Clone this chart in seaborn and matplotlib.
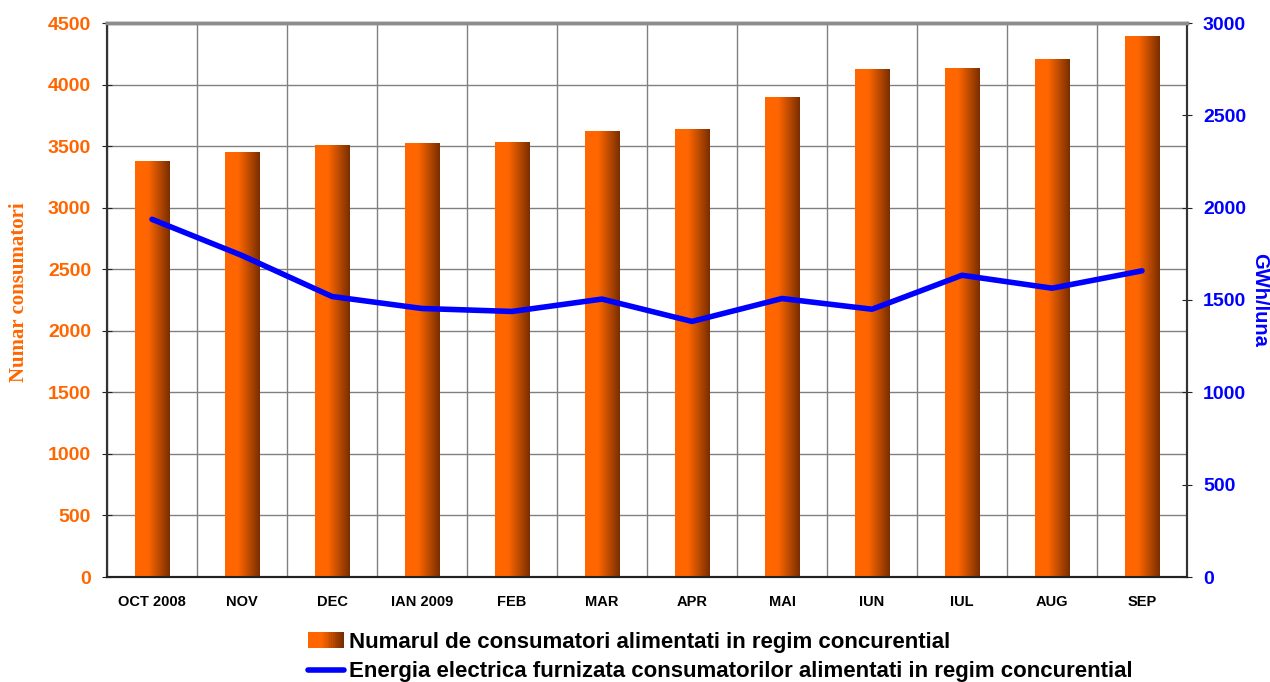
import numpy as np
import pandas as pd
import seaborn as sns
import matplotlib
matplotlib.use('Agg')
import matplotlib.pyplot as plt
from matplotlib.colors import LinearSegmentedColormap
from matplotlib.patches import Rectangle
from matplotlib.lines import Line2D
from matplotlib.legend_handler import HandlerBase

months = ['OCT 2008', 'NOV', 'DEC', 'IAN 2009', 'FEB', 'MAR', 'APR', 'MAI', 'IUN', 'IUL', 'AUG', 'SEP']
consumers = [3378, 3451, 3508, 3524, 3532, 3622, 3638, 3897, 4124, 4132, 4205, 4392]
energy = [1937, 1741, 1519, 1454, 1438, 1505, 1384, 1508, 1450, 1634, 1564, 1658]

bar_label = 'Numarul de consumatori alimentati in regim concurential'
line_label = 'Energia electrica furnizata consumatorilor alimentati in regim concurential'

ORANGE = '#FF6600'
BLUE = '#0000FF'
grad = LinearSegmentedColormap.from_list('bar', [(0, '#FF6600'), (0.38, '#FF6600'), (1, '#7A2E00')])


class GradientHandler(HandlerBase):
    # legend box filled with the same orange->brown gradient as the bars
    def create_artists(self, legend, orig_handle, xdescent, ydescent, width, height, fontsize, trans):
        n = 20
        arts = []
        for i in range(n):
            r = Rectangle((-xdescent + width * i / n, -ydescent), width / n + 0.3, height,
                          facecolor=grad(i / (n - 1)), edgecolor='none', transform=trans)
            arts.append(r)
        return arts


sns.set_style('white')
plt.rcParams['font.family'] = ['Liberation Sans', 'DejaVu Sans']
plt.rcParams['text.color'] = 'black'

df = pd.DataFrame({'month': months, 'consumers': consumers, 'energy': energy})

fig = plt.figure(figsize=(12.7, 6.82), dpi=100)
ax = fig.add_axes([107 / 1270, 105 / 682, 1080 / 1270, 554 / 682])

sns.barplot(data=df, x='month', y='consumers', ax=ax, color=ORANGE, width=0.38, saturation=1, zorder=3)

# gradient fill over each bar
for p in list(ax.patches):
    x0, w, h = p.get_x(), p.get_width(), p.get_height()
    ax.imshow(np.linspace(0, 1, 100).reshape(1, -1), cmap=grad, extent=[x0, x0 + w, 0, h],
              aspect='auto', zorder=3.5, interpolation='bilinear')
    p.set_alpha(0)

ax.set_xlim(-0.5, 11.5)
ax.set_ylim(0, 4500)
ax.set_yticks(np.arange(0, 4501, 500))
ax.set_xticks(np.arange(12))
ax.set_xticklabels(months, fontsize=10.5, fontweight='bold', color='black')
ax.set_xticks(np.arange(-0.5, 12, 1), minor=True)
ax.tick_params(axis='x', which='major', length=0, pad=13)
ax.tick_params(axis='x', which='minor', length=6, direction='out', color='#333333')
ax.tick_params(axis='y', length=7, direction='inout', color='#222222', labelcolor=ORANGE, pad=8)
for t in ax.get_yticklabels():
    t.set_fontweight('bold')
    t.set_fontsize(14)
ax.grid(True, which='minor', axis='x', color='#808080', lw=1, zorder=0)
ax.grid(True, which='major', axis='y', color='#808080', lw=1, zorder=0)
ax.set_axisbelow(True)
ax.set_xlabel('')
ax.set_ylabel('Numar consumatori', fontsize=15, fontweight='bold', color=ORANGE,
              family=['Liberation Serif', 'DejaVu Serif'])
ax.yaxis.set_label_coords(-0.072, 0.515)

ax2 = ax.twinx()
sns.lineplot(x=np.arange(len(months)), y=energy, ax=ax2, color=BLUE, lw=4, zorder=5)
ax2.set_ylim(0, 3000)
ax2.set_yticks(np.arange(0, 3001, 500))
ax2.tick_params(axis='y', length=7, direction='inout', color='#222222', labelcolor=BLUE, pad=8)
for t in ax2.get_yticklabels():
    t.set_fontweight('bold')
    t.set_fontsize(14)
ax2.set_ylabel('GWh/luna', fontsize=14.5, fontweight='bold', color=BLUE, rotation=-90, va='center')
ax2.yaxis.set_label_coords(1.0672, 0.5)
ax2.grid(False)

for a in (ax, ax2):
    a.spines['top'].set_color('#8c8c8c')
    a.spines['top'].set_linewidth(2.5)
    a.spines['left'].set_color('#333333')
    a.spines['left'].set_linewidth(1.5)
    a.spines['right'].set_color('#333333')
    a.spines['right'].set_linewidth(1.5)
    a.spines['bottom'].set_color('#222222')
    a.spines['bottom'].set_linewidth(1.5)

bar_handle = Rectangle((0, 0), 1, 1)
line_handle = Line2D([0], [0], color=BLUE, lw=4)
leg = fig.legend([bar_handle, line_handle], [bar_label, line_label], loc='upper left',
                 bbox_to_anchor=(308 / 1270, 1 - 632 / 682), frameon=False,
                 handler_map={Rectangle: GradientHandler()},
                 prop={'weight': 'bold', 'size': 16}, handlelength=1.6, handletextpad=0.25,
                 labelspacing=0.38, borderpad=0, borderaxespad=0)
for t in leg.get_texts():
    t.set_color('black')

fig.savefig('out.png', dpi=100)
